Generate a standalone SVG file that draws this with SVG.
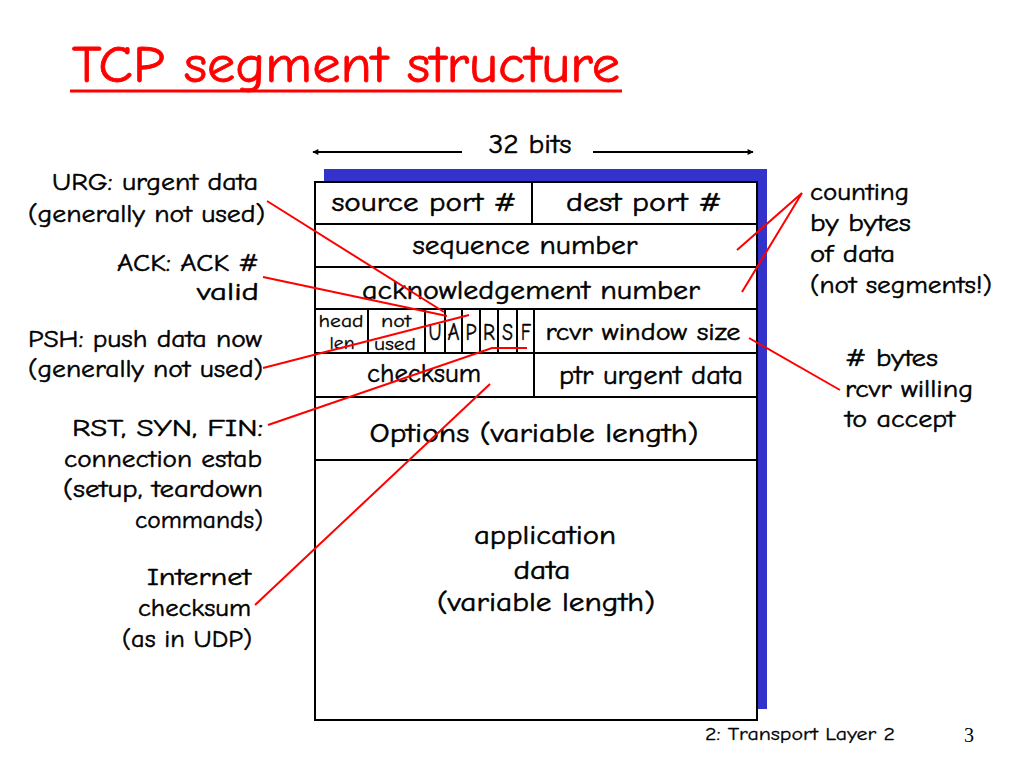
<svg xmlns="http://www.w3.org/2000/svg" width="1024" height="768" viewBox="0 0 1024 768">
<defs>
<marker id="ah" viewBox="0 0 10 10" refX="9" refY="5" markerWidth="8" markerHeight="6" markerUnits="userSpaceOnUse" orient="auto"><path d="M0,0 L10,5 L0,10 z" fill="#000"/></marker>
<style>
text{font-family:"Comic Sans MS","Comic Neue","DejaVu Sans",sans-serif;fill:#000;stroke:#000;stroke-width:0.5}
.t{font-size:26px}
.l{font-size:25px}
.s{font-size:18px;stroke-width:0.3}
.f{font-size:25px}
.m{text-anchor:middle}
.e{text-anchor:end}
.red{stroke:#f00;stroke-width:2;fill:none}
.blk{stroke:#000;stroke-width:2;fill:none}
</style>
</defs>
<rect width="1024" height="768" fill="#fff"/>
<g id="title">
<text x="72" y="82" style="font-size:52px;fill:#f00;stroke:#f00;stroke-width:0.8" textLength="548" lengthAdjust="spacingAndGlyphs">TCP segment structure</text>
<line x1="70" y1="91" x2="622" y2="91" stroke="#f00" stroke-width="3"/>
</g>
<g id="width">
<text class="t m" x="530" y="153" textLength="83" lengthAdjust="spacingAndGlyphs">32 bits</text>
<line class="blk" x1="462" y1="152" x2="313" y2="152" marker-end="url(#ah)" stroke-width="1.5"/>
<line class="blk" x1="593" y1="152" x2="753" y2="152" marker-end="url(#ah)" stroke-width="1.5"/>
</g>
<g id="segment">
<rect x="324" y="169" width="443" height="540" fill="#3333cc"/>
<rect x="315" y="182" width="442" height="538" fill="#fff" stroke="#000" stroke-width="2"/>
<path class="blk" d="M315,224 H757 M315,267 H757 M315,309 H757 M315,353 H757 M315,397 H757 M315,460 H757 M532,182 V224 M368,309 V353 M425,309 V353 M445,309 V353 M462,309 V353 M480,309 V353 M498,309 V353 M517,309 V353 M534,309 V397"/>
<text class="t m" x="424" y="211" textLength="185" lengthAdjust="spacingAndGlyphs">source port #</text>
<text class="t m" x="644" y="211" textLength="156" lengthAdjust="spacingAndGlyphs">dest port #</text>
<text class="t m" x="525" y="254" textLength="225" lengthAdjust="spacingAndGlyphs">sequence number</text>
<text class="t m" x="531" y="299" textLength="338" lengthAdjust="spacingAndGlyphs">acknowledgement number</text>
<text class="s m" x="341" y="327" textLength="45" lengthAdjust="spacingAndGlyphs">head</text>
<text class="s m" x="342" y="349" textLength="25" lengthAdjust="spacingAndGlyphs">len</text>
<text class="s m" x="396" y="327" textLength="30" lengthAdjust="spacingAndGlyphs">not</text>
<text class="s m" x="395" y="350" textLength="42" lengthAdjust="spacingAndGlyphs">used</text>
<text class="f m" x="435" y="340" textLength="13" lengthAdjust="spacingAndGlyphs">U</text>
<text class="f m" x="453.5" y="340" textLength="12" lengthAdjust="spacingAndGlyphs">A</text>
<text class="f m" x="471" y="340" textLength="11" lengthAdjust="spacingAndGlyphs">P</text>
<text class="f m" x="489" y="340" textLength="12" lengthAdjust="spacingAndGlyphs">R</text>
<text class="f m" x="507.5" y="340" textLength="11" lengthAdjust="spacingAndGlyphs">S</text>
<text class="f m" x="526" y="340" textLength="10" lengthAdjust="spacingAndGlyphs">F</text>
<text class="l m" x="643" y="340" textLength="195" lengthAdjust="spacingAndGlyphs">rcvr window size</text>
<text class="t m" x="424" y="382" textLength="114" lengthAdjust="spacingAndGlyphs">checksum</text>
<text class="t m" x="651" y="384" textLength="184" lengthAdjust="spacingAndGlyphs">ptr urgent data</text>
<text class="t m" x="534" y="442" textLength="329" lengthAdjust="spacingAndGlyphs">Options (variable length)</text>
<text class="t m" x="545" y="544" textLength="142" lengthAdjust="spacingAndGlyphs">application</text>
<text class="t m" x="542" y="579" textLength="57" lengthAdjust="spacingAndGlyphs">data</text>
<text class="t m" x="546" y="611" textLength="218" lengthAdjust="spacingAndGlyphs">(variable length)</text>
</g>
<g id="label-urg">
<text class="l e" x="258" y="190" textLength="206" lengthAdjust="spacingAndGlyphs">URG: urgent data</text>
<text class="l e" x="265" y="222" textLength="237" lengthAdjust="spacingAndGlyphs">(generally not used)</text>
</g>
<g id="label-ack">
<text class="l e" x="259" y="271" textLength="142" lengthAdjust="spacingAndGlyphs">ACK: ACK #</text>
<text class="l e" x="259" y="300" textLength="62" lengthAdjust="spacingAndGlyphs">valid</text>
</g>
<g id="label-psh">
<text class="l e" x="262" y="347" textLength="234" lengthAdjust="spacingAndGlyphs">PSH: push data now</text>
<text class="l e" x="263" y="377" textLength="235" lengthAdjust="spacingAndGlyphs">(generally not used)</text>
</g>
<g id="label-rst">
<text class="l e" x="263" y="436" textLength="191" lengthAdjust="spacingAndGlyphs">RST, SYN, FIN:</text>
<text class="l e" x="262" y="467" textLength="198" lengthAdjust="spacingAndGlyphs">connection estab</text>
<text class="l e" x="263" y="497" textLength="200" lengthAdjust="spacingAndGlyphs">(setup, teardown</text>
<text class="l e" x="263" y="528" textLength="128" lengthAdjust="spacingAndGlyphs">commands)</text>
</g>
<g id="label-checksum">
<text class="l e" x="251" y="585" textLength="104" lengthAdjust="spacingAndGlyphs">Internet</text>
<text class="l e" x="251" y="616" textLength="113" lengthAdjust="spacingAndGlyphs">checksum</text>
<text class="l e" x="252" y="647" textLength="130" lengthAdjust="spacingAndGlyphs">(as in UDP)</text>
</g>
<g id="label-counting">
<text class="l" x="810" y="200" textLength="99" lengthAdjust="spacingAndGlyphs">counting</text>
<text class="l" x="810" y="231" textLength="101" lengthAdjust="spacingAndGlyphs">by bytes</text>
<text class="l" x="810" y="262" textLength="85" lengthAdjust="spacingAndGlyphs">of data</text>
<text class="l" x="810" y="293" textLength="182" lengthAdjust="spacingAndGlyphs">(not segments!)</text>
</g>
<g id="label-window">
<text class="l" x="845" y="366" textLength="93" lengthAdjust="spacingAndGlyphs"># bytes</text>
<text class="l" x="845" y="397" textLength="128" lengthAdjust="spacingAndGlyphs">rcvr willing</text>
<text class="l" x="845" y="427" textLength="110" lengthAdjust="spacingAndGlyphs">to accept</text>
</g>
<g id="connectors">
<path class="red" d="M267,201 L444,312"/>
<path class="red" d="M263,277 L447,316"/>
<path class="red" d="M263,368 L469,315"/>
<path class="red" d="M268,425 L492,348 L527,348"/>
<path class="red" d="M255,605 L490,384"/>
<path class="red" d="M737,250 L802,193 L742,292"/>
<path class="red" d="M749,338 L840,390"/>
</g>
<g id="footer">
<text x="705" y="740" style="font-size:19px;stroke-width:0.3" textLength="190" lengthAdjust="spacingAndGlyphs">2: Transport Layer 2</text>
<text x="964" y="742" style="font-family:'Liberation Serif',serif;font-size:20px;stroke-width:0">3</text>
</g>
</svg>
